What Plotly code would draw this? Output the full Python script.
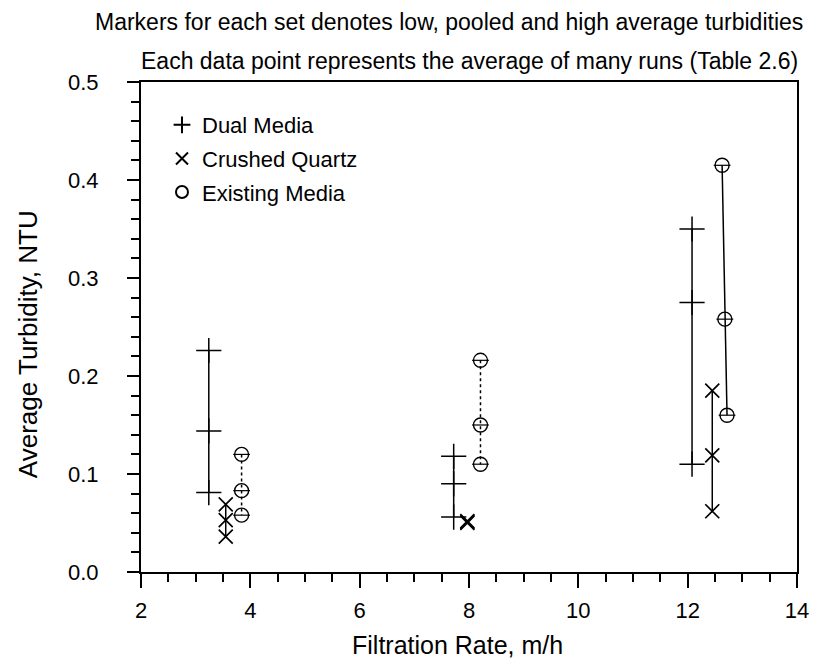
import plotly.graph_objects as go

# Data: (filtration rate, average turbidity) for low/pooled/high per set
dual_x = [3.24, 3.24, 3.24, 7.72, 7.72, 7.72, 12.08, 12.08, 12.08]
dual_y = [0.226, 0.144, 0.081, 0.118, 0.090, 0.056, 0.350, 0.275, 0.110]

quartz_x = [3.55, 3.55, 3.55, 7.97, 7.97, 7.97, 12.45, 12.45, 12.45]
quartz_y = [0.069, 0.053, 0.036, 0.052, 0.051, 0.050, 0.185, 0.119, 0.062]

exist_x = [3.84, 3.84, 3.84, 8.21, 8.21, 8.21, 12.63, 12.68, 12.72]
exist_y = [0.120, 0.083, 0.058, 0.216, 0.150, 0.110, 0.415, 0.258, 0.160]

x_ticks = [2, 4, 6, 8, 10, 12, 14]
y_ticks = [0.0, 0.1, 0.2, 0.3, 0.4, 0.5]

FONT = "Liberation Sans, Arial, sans-serif"

fig = go.Figure()

def add_group_lines(xs, ys, dashes):
    for i in range(0, len(xs), 3):
        fig.add_trace(go.Scatter(
            x=xs[i:i+3], y=ys[i:i+3], mode="lines",
            line=dict(color="black", width=1.5, dash=dashes[i // 3]),
            showlegend=False, hoverinfo="skip"))

add_group_lines(dual_x, dual_y, ["solid", "solid", "solid"])
add_group_lines(quartz_x, quartz_y, ["solid", "solid", "solid"])
add_group_lines(exist_x, exist_y, ["dot", "dot", "solid"])

fig.add_trace(go.Scatter(
    x=dual_x, y=dual_y, mode="markers", name="Dual Media", legendgroup="a",
    marker=dict(symbol="cross-thin", size=18, line=dict(color="black", width=1.5), color="black")))
fig.add_trace(go.Scatter(
    x=quartz_x, y=quartz_y, mode="markers", name="Crushed Quartz", legendgroup="b",
    marker=dict(symbol="x-thin", size=14, line=dict(color="black", width=1.7), color="black")))
fig.add_trace(go.Scatter(
    x=exist_x, y=exist_y, mode="markers", name="Existing Media", legendgroup="c",
    marker=dict(symbol="circle-open", size=14, line=dict(color="black", width=1.4), color="black")))
# horizontal bar inside the circles (as in the original marker)
fig.add_trace(go.Scatter(
    x=exist_x, y=exist_y, mode="markers", showlegend=False, hoverinfo="skip",
    marker=dict(symbol="line-ew", size=12, line=dict(color="black", width=1.2))))

fig.update_layout(
    width=821, height=671,
    paper_bgcolor="white", plot_bgcolor="white",
    margin=dict(l=141, r=22, t=82, b=99),
    font=dict(family=FONT, color="black", size=21),
    showlegend=True,
    legend=dict(x=0.032, y=0.955, xanchor="left", yanchor="top",
                bgcolor="rgba(0,0,0,0)", font=dict(size=22, family=FONT),
                itemsizing="constant", traceorder="grouped", tracegroupgap=2),
    annotations=[
        dict(text="Markers for each set denotes low, pooled and high average turbidities",
             xref="paper", yref="paper", x=0.47, y=1.0, yshift=60, showarrow=False,
             font=dict(size=23, family=FONT), xanchor="center", yanchor="middle"),
        dict(text="Each data point represents the average of many runs (Table 2.6)",
             xref="paper", yref="paper", x=0.50, y=1.0, yshift=21, showarrow=False,
             font=dict(size=23, family=FONT), xanchor="center", yanchor="middle"),
        dict(text="Filtration Rate, m/h",
             xref="paper", yref="paper", x=0.482, y=0, yshift=-73, showarrow=False,
             font=dict(size=25, family=FONT), xanchor="center", yanchor="middle"),
        dict(text="Average Turbidity, NTU", textangle=-90,
             xref="paper", yref="paper", x=0, xshift=-113, y=0.465, showarrow=False,
             font=dict(size=26, family=FONT), xanchor="center", yanchor="middle"),
    ],
)

fig.update_xaxes(
    range=[2, 14], tickvals=x_ticks, ticktext=[str(v) for v in x_ticks],
    ticks="outside", ticklen=14, tickwidth=1.8, tickcolor="black",
    minor=dict(dtick=0.5, ticks="outside", ticklen=8, tickwidth=1.5, tickcolor="black"),
    showline=True, linecolor="black", linewidth=2, mirror=True,
    showgrid=False, zeroline=False, ticklabelstandoff=4,
    tickfont=dict(size=22, family=FONT),
)
fig.update_yaxes(
    range=[0, 0.5], tickvals=y_ticks, ticktext=[f"{v:.1f}" for v in y_ticks],
    ticks="outside", ticklen=12, tickwidth=1.8, tickcolor="black",
    minor=dict(dtick=0.02, ticks="outside", ticklen=8, tickwidth=1.5, tickcolor="black"),
    showline=True, linecolor="black", linewidth=2, mirror=True,
    showgrid=False, zeroline=False, ticklabelstandoff=24,
    tickfont=dict(size=22, family=FONT),
)

fig.write_html("out.html")
